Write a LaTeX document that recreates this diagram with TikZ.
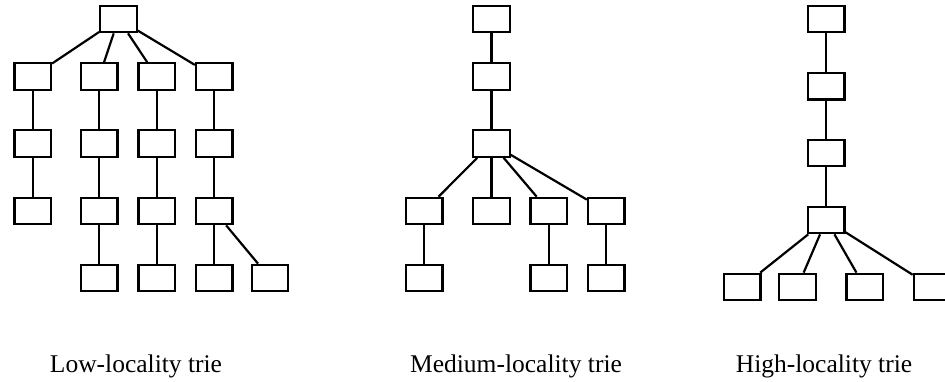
\documentclass[tikz,border=0pt]{standalone}
\usepackage{fontspec}
\setmainfont{Liberation Serif}
\begin{document}
\begin{tikzpicture}[x=1pt,y=-1pt,
  tnode/.style={draw=black,line width=2.2pt,minimum width=36.5pt,minimum height=26.5pt,inner sep=0pt,fill=white},
  edge/.style={line width=2.2pt,draw=black},
  lbl/.style={anchor=base,font=\fontsize{25.5}{30}\selectfont,inner sep=0pt}]
\useasboundingbox (0,0) rectangle (945,381);
\clip (0,0) rectangle (945,381);
% Low-locality trie
\node[tnode] (L0) at (118.5,19) {};
\node[tnode] (L11) at (32.7,76.5) {};
\node[tnode] (L12) at (99.3,76.5) {};
\node[tnode] (L13) at (156.7,76.5) {};
\node[tnode] (L14) at (214.2,76.5) {};
\node[tnode] (L21) at (32.7,143.5) {};
\node[tnode] (L22) at (99.3,143.5) {};
\node[tnode] (L23) at (156.7,143.5) {};
\node[tnode] (L24) at (214.2,143.5) {};
\node[tnode] (L31) at (32.7,211) {};
\node[tnode] (L32) at (99.3,211) {};
\node[tnode] (L33) at (156.7,211) {};
\node[tnode] (L34) at (214.2,211) {};
\node[tnode] (L42) at (99.3,278) {};
\node[tnode] (L43) at (156.7,278) {};
\node[tnode] (L44) at (214.2,278) {};
\node[tnode] (L45) at (270,278) {};
\draw[edge] (L0) -- (L11);
\draw[edge] (L0) -- (L12);
\draw[edge] (L0) -- (L13);
\draw[edge] (L0) -- (L14);
\draw[edge] (L11) -- (L21);
\draw[edge] (L12) -- (L22);
\draw[edge] (L13) -- (L23);
\draw[edge] (L14) -- (L24);
\draw[edge] (L21) -- (L31);
\draw[edge] (L22) -- (L32);
\draw[edge] (L23) -- (L33);
\draw[edge] (L24) -- (L34);
\draw[edge] (L32) -- (L42);
\draw[edge] (L33) -- (L43);
\draw[edge] (L34) -- (L44);
\draw[edge] (L34) -- (L45);
% Medium-locality trie
\node[tnode] (M0) at (491.5,19) {};
\node[tnode] (M1) at (491.5,76.5) {};
\node[tnode] (M2) at (491.5,143.5) {};
\node[tnode] (M31) at (424.3,211) {};
\node[tnode] (M32) at (491.5,211) {};
\node[tnode] (M33) at (548.8,211) {};
\node[tnode] (M34) at (606.2,211) {};
\node[tnode] (M41) at (424.3,278) {};
\node[tnode] (M43) at (548.8,278) {};
\node[tnode] (M44) at (606.2,278) {};
\draw[edge] (M0) -- (M1);
\draw[edge] (M1) -- (M2);
\draw[edge] (M2) -- (M31);
\draw[edge] (M2) -- (M32);
\draw[edge] (M2) -- (M33);
\draw[edge] (M2) -- (M34);
\draw[edge] (M31) -- (M41);
\draw[edge] (M33) -- (M43);
\draw[edge] (M34) -- (M44);
% High-locality trie
\node[tnode] (H0) at (826.2,19) {};
\node[tnode] (H1) at (826.2,86.3) {};
\node[tnode] (H2) at (826.2,153) {};
\node[tnode] (H3) at (826.2,220) {};
\node[tnode] (H41) at (742.2,287) {};
\node[tnode] (H42) at (797.5,287) {};
\node[tnode] (H43) at (864.7,287) {};
\node[tnode] (H44) at (932,287) {};
\draw[edge] (H0) -- (H1);
\draw[edge] (H1) -- (H2);
\draw[edge] (H2) -- (H3);
\draw[edge] (H3) -- (H41);
\draw[edge] (H3) -- (H42);
\draw[edge] (H3) -- (H43);
\draw[edge] (H3) -- (H44);
% Labels
\node[lbl] (lowlbl) at (136,372) {Low-locality trie};
\node[lbl] (medlbl) at (516,372) {Medium-locality trie};
\node[lbl] (highlbl) at (824,372) {High-locality trie};
\end{tikzpicture}
\end{document}
